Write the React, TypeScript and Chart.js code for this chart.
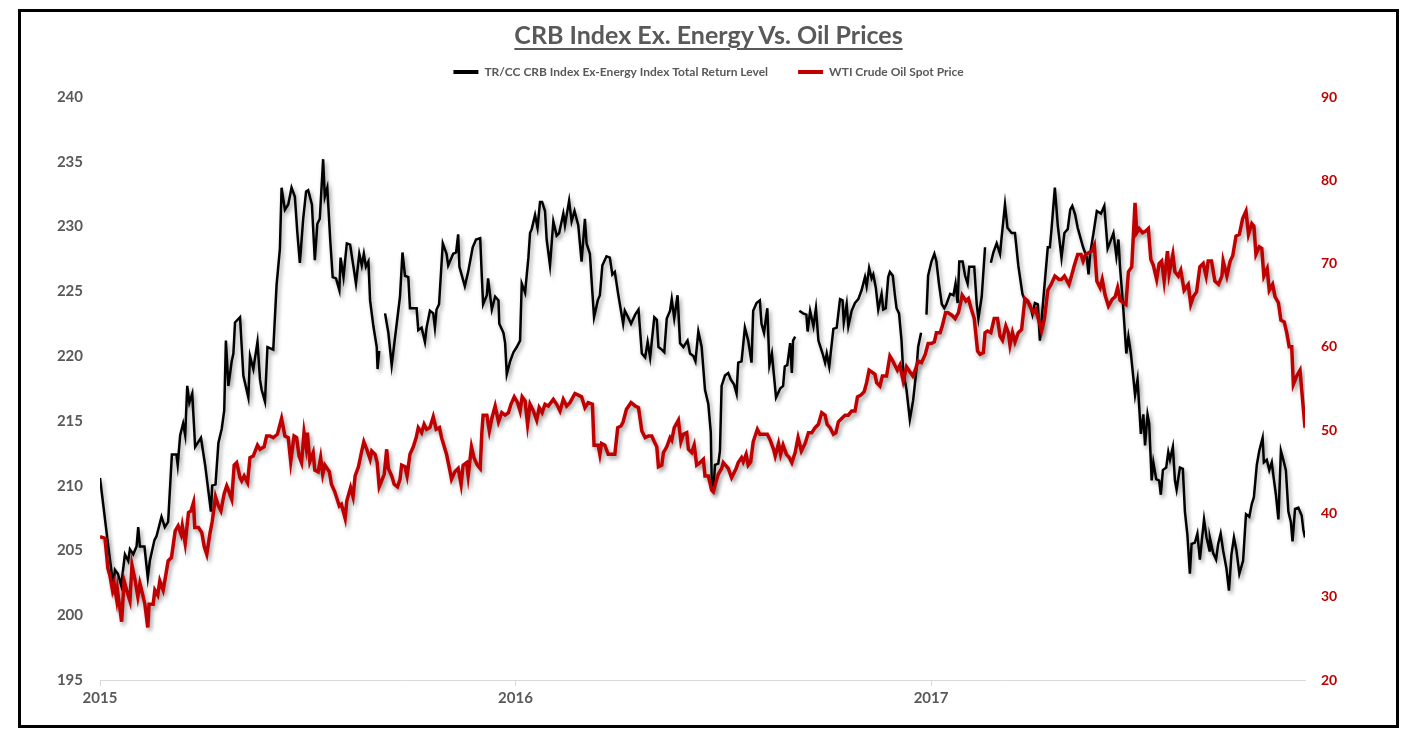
import React, { useEffect, useRef } from 'react';
import { Chart, registerables } from 'chart.js';

Chart.register(...registerables);

// x = years since start of 2015
const yearLabels = ['2015', '2016', '2017'];
const xRange = [0, 2.9];
const leftRange = [195, 240, 5];
const rightRange = [20, 90, 10];

const crbLabel = 'TR/CC CRB Index Ex-Energy Index Total Return Level';
const oilLabel = 'WTI Crude Oil Spot Price';

const crbPoints: [number, number | null][] = [
  [0.000,210.6],[0.020,205.3],[0.032,202.3],[0.036,203.5],[0.043,203.2],[0.051,202.3],[0.060,204.7],[0.068,204.2],[0.072,205.1],[0.080,204.7],
  [0.088,205.3],[0.092,206.8],[0.096,205.3],[0.107,205.3],[0.115,202.9],[0.120,204.2],[0.131,205.8],[0.136,206.1],[0.148,207.6],[0.156,206.8],
  [0.164,207.2],[0.173,212.4],[0.184,212.4],[0.187,211.6],[0.193,213.9],[0.200,214.8],[0.205,213.9],[0.210,217.7],[0.215,216.4],[0.222,217.1],
  [0.229,213.0],[0.243,213.7],[0.253,211.6],[0.267,208.0],[0.270,210.0],[0.278,210.1],[0.285,213.3],[0.293,214.4],[0.299,215.8],[0.303,221.2],
  [0.309,217.7],[0.317,219.6],[0.321,220.2],[0.325,222.6],[0.337,223.0],[0.345,218.5],[0.357,216.8],[0.361,220.0],[0.369,219.0],[0.379,221.1],
  [0.385,218.2],[0.389,217.4],[0.397,216.5],[0.403,220.7],[0.417,220.5],[0.425,225.5],[0.433,228.3],[0.437,233.0],[0.445,231.3],[0.453,231.7],
  [0.461,233.0],[0.469,232.3],[0.475,229.5],[0.481,227.2],[0.489,230.6],[0.496,232.7],[0.501,232.8],[0.510,231.7],[0.517,227.4],[0.523,230.2],
  [0.529,230.6],[0.537,235.2],[0.541,232.3],[0.547,233.0],[0.554,229.0],[0.560,226.1],[0.568,226.0],[0.576,225.1],[0.579,227.6],[0.586,226.1],
  [0.594,228.7],[0.602,228.6],[0.610,226.9],[0.616,225.6],[0.624,227.9],[0.630,227.0],[0.635,227.9],[0.640,226.9],[0.646,227.3],[0.650,224.3],
  [0.658,222.3],[0.666,220.7],[0.668,219.0],[0.672,220.4],[0.679,null],[0.686,223.3],[0.694,221.8],[0.702,219.3],[0.722,224.6],[0.728,228.0],
  [0.734,226.2],[0.742,226.1],[0.746,223.7],[0.762,223.7],[0.766,222.0],[0.774,222.2],[0.782,221.1],[0.786,222.2],[0.794,223.5],[0.802,223.3],
  [0.806,222.2],[0.810,223.6],[0.816,224.0],[0.825,228.7],[0.834,227.9],[0.838,227.0],[0.850,227.9],[0.857,228.0],[0.862,229.4],[0.865,226.9],
  [0.878,225.4],[0.886,226.5],[0.897,228.4],[0.905,229.0],[0.915,229.1],[0.919,226.1],[0.922,224.0],[0.931,224.7],[0.934,226.0],[0.943,223.6],
  [0.951,224.6],[0.959,224.3],[0.961,222.5],[0.971,221.8],[0.975,221.0],[0.979,218.6],[0.987,219.6],[0.995,220.3],[1.003,220.7],[1.011,221.2],
  [1.015,225.6],[1.023,224.9],[1.031,227.6],[1.035,229.5],[1.039,229.8],[1.047,230.9],[1.053,229.9],[1.059,231.9],[1.064,231.9],[1.071,231.2],
  [1.075,229.0],[1.083,227.0],[1.091,230.4],[1.099,229.3],[1.105,229.5],[1.115,231.0],[1.119,230.1],[1.129,232.0],[1.135,230.4],[1.142,231.2],
  [1.151,230.1],[1.159,227.3],[1.167,230.6],[1.171,228.7],[1.179,227.9],[1.185,224.9],[1.189,223.0],[1.198,224.3],[1.203,224.7],[1.209,227.0],
  [1.219,227.7],[1.227,227.6],[1.233,226.3],[1.239,226.5],[1.247,224.8],[1.259,222.5],[1.263,223.5],[1.271,223.0],[1.278,222.5],[1.288,223.2],
  [1.296,223.6],[1.304,220.2],[1.312,219.9],[1.318,221.1],[1.324,219.9],[1.334,223.0],[1.340,222.8],[1.344,220.7],[1.352,220.5],[1.358,220.3],
  [1.364,222.9],[1.372,223.5],[1.376,224.4],[1.382,222.9],[1.390,224.7],[1.396,221.0],[1.404,220.7],[1.414,221.2],[1.420,220.2],[1.428,220.0],
  [1.433,219.6],[1.440,221.9],[1.448,220.7],[1.456,217.4],[1.464,216.3],[1.470,214.1],[1.472,210.7],[1.476,209.5],[1.480,211.6],[1.488,211.7],
  [1.492,212.7],[1.496,217.7],[1.504,218.5],[1.512,218.7],[1.518,218.2],[1.526,217.8],[1.532,217.1],[1.536,219.5],[1.544,219.6],[1.552,222.2],
  [1.560,221.2],[1.568,219.5],[1.572,223.5],[1.580,224.1],[1.588,224.3],[1.592,222.5],[1.598,221.8],[1.606,223.7],[1.611,219.3],[1.617,220.2],
  [1.627,216.8],[1.637,217.5],[1.644,217.7],[1.648,219.2],[1.654,219.3],[1.661,221.0],[1.665,218.7],[1.668,221.2],[1.673,221.5],[1.677,null],
  [1.683,223.5],[1.692,223.3],[1.700,223.2],[1.703,221.9],[1.709,223.5],[1.717,222.3],[1.723,223.7],[1.729,221.2],[1.739,220.2],[1.745,219.5],
  [1.749,220.2],[1.755,219.2],[1.765,222.1],[1.773,222.2],[1.781,224.4],[1.787,224.3],[1.790,222.6],[1.797,224.0],[1.801,222.3],[1.809,223.5],
  [1.817,224.1],[1.825,224.4],[1.833,225.1],[1.841,226.1],[1.845,225.4],[1.851,226.8],[1.857,226.0],[1.861,226.3],[1.867,225.3],[1.873,223.6],
  [1.881,224.8],[1.885,223.6],[1.891,223.7],[1.897,226.1],[1.901,226.5],[1.908,226.2],[1.913,224.7],[1.917,223.7],[1.923,223.3],[1.929,221.2],
  [1.933,218.8],[1.941,217.4],[1.949,215.1],[1.957,216.6],[1.965,219.0],[1.969,220.7],[1.976,221.8],[1.981,null],[1.989,223.2],[1.993,226.2],
  [2.001,227.3],[2.008,227.9],[2.013,227.3],[2.019,225.6],[2.026,224.0],[2.032,223.7],[2.037,224.0],[2.046,224.8],[2.054,224.7],[2.059,225.6],
  [2.064,224.1],[2.068,227.3],[2.076,227.3],[2.082,226.2],[2.088,225.6],[2.092,226.9],[2.104,226.9],[2.110,224.0],[2.114,222.9],[2.122,224.6],
  [2.130,228.4],[2.137,null],[2.144,227.2],[2.150,228.0],[2.158,228.7],[2.166,227.9],[2.170,229.2],[2.178,231.7],[2.184,229.9],[2.194,229.5],
  [2.202,229.5],[2.210,227.0],[2.220,224.8],[2.226,224.3],[2.238,224.0],[2.244,223.2],[2.250,224.1],[2.257,224.0],[2.262,221.2],[2.270,224.3],
  [2.281,228.4],[2.286,228.4],[2.290,229.8],[2.298,233.0],[2.305,230.1],[2.314,227.6],[2.321,229.5],[2.329,229.8],[2.335,231.3],[2.340,231.6],
  [2.347,230.9],[2.353,229.9],[2.359,229.2],[2.366,228.4],[2.375,227.6],[2.379,226.3],[2.383,227.9],[2.391,229.5],[2.399,231.2],[2.409,231.0],
  [2.417,231.6],[2.425,228.3],[2.431,228.8],[2.439,229.5],[2.446,227.7],[2.451,229.0],[2.455,226.8],[2.462,224.0],[2.470,220.2],[2.475,221.5],
  [2.481,220.2],[2.486,218.6],[2.491,217.0],[2.497,218.2],[2.505,214.0],[2.511,215.5],[2.515,213.1],[2.521,215.5],[2.525,214.8],[2.531,210.4],
  [2.535,211.8],[2.542,210.5],[2.549,210.4],[2.553,209.3],[2.558,211.2],[2.566,211.4],[2.571,212.6],[2.575,212.0],[2.582,213.0],[2.587,210.4],
  [2.591,209.7],[2.599,211.4],[2.606,211.3],[2.611,208.0],[2.617,206.2],[2.623,203.2],[2.627,205.5],[2.635,205.6],[2.641,206.3],[2.647,204.3],
  [2.657,207.4],[2.663,206.0],[2.670,205.0],[2.671,206.0],[2.679,204.8],[2.686,204.3],[2.691,205.5],[2.697,206.3],[2.703,205.0],[2.711,203.6],
  [2.717,201.9],[2.723,204.7],[2.729,206.0],[2.735,205.0],[2.742,203.2],[2.751,204.2],[2.758,207.8],[2.766,207.6],[2.772,208.6],[2.777,209.1],
  [2.784,211.6],[2.790,212.7],[2.798,213.7],[2.801,211.8],[2.808,212.0],[2.814,211.2],[2.820,211.8],[2.825,210.5],[2.830,209.3],[2.836,207.4],
  [2.842,212.7],[2.847,212.1],[2.854,211.2],[2.860,208.0],[2.866,207.2],[2.870,205.7],[2.876,208.2],[2.884,208.3],[2.892,207.7],[2.896,206.6],
  [2.900,206.0],
];

const oilPoints: [number, number][] = [
  [0.000,37.2],[0.012,37.0],[0.019,33.4],[0.024,32.5],[0.030,30.8],[0.034,31.6],[0.040,29.7],[0.042,30.8],[0.052,27.0],[0.058,31.9],
  [0.064,30.8],[0.072,29.5],[0.077,33.8],[0.084,32.1],[0.091,30.0],[0.096,31.6],[0.102,30.4],[0.108,29.1],[0.115,26.3],[0.118,29.1],
  [0.128,29.1],[0.132,30.8],[0.139,30.2],[0.144,31.9],[0.152,30.8],[0.158,32.5],[0.164,34.3],[0.172,34.7],[0.181,37.9],[0.188,38.5],
  [0.195,37.5],[0.198,38.5],[0.205,36.4],[0.213,40.1],[0.219,40.3],[0.225,41.3],[0.228,38.3],[0.237,38.3],[0.245,37.7],[0.251,36.0],
  [0.257,35.1],[0.265,37.7],[0.270,39.0],[0.278,42.0],[0.285,40.9],[0.291,40.3],[0.299,42.4],[0.305,43.3],[0.309,42.8],[0.317,41.7],
  [0.323,45.8],[0.329,46.1],[0.337,44.3],[0.341,43.9],[0.347,44.5],[0.355,43.7],[0.361,46.7],[0.369,46.9],[0.379,48.2],[0.385,47.7],
  [0.395,48.0],[0.401,49.3],[0.409,49.3],[0.417,49.1],[0.427,49.5],[0.437,51.4],[0.445,49.3],[0.453,49.1],[0.459,46.2],[0.467,49.3],
  [0.473,49.1],[0.479,46.9],[0.485,46.1],[0.491,49.7],[0.496,48.0],[0.499,49.7],[0.505,46.2],[0.513,47.3],[0.517,45.2],[0.525,45.0],
  [0.531,46.7],[0.536,44.7],[0.541,45.8],[0.552,45.0],[0.557,43.5],[0.565,42.6],[0.576,40.9],[0.581,41.1],[0.590,39.4],[0.594,41.5],
  [0.603,43.1],[0.609,42.0],[0.614,44.5],[0.622,45.6],[0.630,47.5],[0.635,48.6],[0.642,47.7],[0.650,46.5],[0.654,47.5],[0.662,47.1],
  [0.667,46.1],[0.672,43.2],[0.684,44.7],[0.690,47.7],[0.694,45.4],[0.702,44.5],[0.708,43.5],[0.716,43.2],[0.722,44.1],[0.726,45.8],
  [0.734,45.6],[0.739,44.5],[0.746,47.1],[0.754,48.0],[0.761,49.1],[0.766,50.3],[0.774,49.7],[0.780,50.7],[0.786,50.1],[0.794,50.3],
  [0.802,51.6],[0.809,50.1],[0.817,50.3],[0.822,49.1],[0.834,47.1],[0.841,45.4],[0.846,44.1],[0.854,45.0],[0.862,45.4],[0.869,43.5],
  [0.874,45.8],[0.882,46.1],[0.886,44.5],[0.894,48.0],[0.900,46.7],[0.908,45.8],[0.915,45.4],[0.919,49.7],[0.922,51.8],[0.931,51.8],
  [0.937,49.9],[0.943,51.4],[0.951,52.9],[0.959,51.0],[0.967,52.1],[0.975,51.8],[0.983,52.1],[0.989,53.1],[0.997,54.0],[1.005,53.3],
  [1.011,52.3],[1.016,54.0],[1.023,53.5],[1.029,50.7],[1.035,53.1],[1.043,52.3],[1.051,51.2],[1.057,52.7],[1.064,52.1],[1.071,53.1],
  [1.079,52.9],[1.091,53.7],[1.099,53.1],[1.107,52.3],[1.115,53.7],[1.123,52.9],[1.131,53.3],[1.143,54.4],[1.151,54.2],[1.159,54.0],
  [1.167,52.7],[1.175,53.3],[1.185,53.1],[1.189,48.2],[1.199,48.2],[1.203,47.1],[1.207,48.4],[1.215,48.2],[1.223,47.1],[1.233,47.1],
  [1.239,47.1],[1.246,50.3],[1.254,50.5],[1.259,51.0],[1.267,52.5],[1.278,53.3],[1.288,52.9],[1.296,52.7],[1.304,49.9],[1.312,49.1],
  [1.320,49.3],[1.328,49.3],[1.334,48.6],[1.340,48.0],[1.344,45.6],[1.352,45.8],[1.356,47.3],[1.364,48.0],[1.372,49.1],[1.376,48.8],
  [1.382,50.3],[1.392,51.2],[1.398,48.6],[1.404,49.5],[1.412,49.7],[1.416,47.7],[1.424,47.3],[1.430,48.2],[1.436,45.8],[1.444,46.1],
  [1.452,46.5],[1.456,44.5],[1.464,44.5],[1.472,42.8],[1.476,42.6],[1.482,43.7],[1.488,44.7],[1.496,45.4],[1.500,46.1],[1.512,45.4],
  [1.520,44.3],[1.531,45.4],[1.536,46.1],[1.544,46.7],[1.548,46.2],[1.555,47.1],[1.560,45.8],[1.566,46.2],[1.572,48.6],[1.582,50.1],
  [1.588,49.5],[1.598,49.5],[1.606,49.5],[1.613,48.8],[1.621,47.7],[1.625,46.9],[1.633,48.4],[1.638,47.1],[1.644,48.2],[1.652,47.1],
  [1.659,46.7],[1.665,46.1],[1.673,47.3],[1.680,49.1],[1.688,47.5],[1.697,48.4],[1.705,49.7],[1.713,49.7],[1.721,50.3],[1.729,50.7],
  [1.737,52.1],[1.745,51.8],[1.750,50.7],[1.757,50.3],[1.765,49.5],[1.771,49.7],[1.777,51.0],[1.785,51.4],[1.793,51.8],[1.801,51.8],
  [1.809,52.3],[1.817,52.3],[1.823,54.0],[1.831,54.2],[1.839,54.6],[1.845,55.7],[1.851,57.2],[1.857,57.0],[1.865,56.7],[1.869,55.7],
  [1.877,55.3],[1.883,56.5],[1.893,56.5],[1.901,58.9],[1.908,58.3],[1.913,57.8],[1.919,57.2],[1.925,57.8],[1.933,55.9],[1.941,57.6],
  [1.949,57.0],[1.956,56.5],[1.962,57.2],[1.969,58.3],[1.977,58.1],[1.986,59.1],[1.993,60.4],[2.001,60.4],[2.008,60.6],[2.013,61.7],
  [2.022,61.7],[2.027,62.5],[2.035,64.1],[2.041,64.1],[2.050,63.8],[2.058,63.4],[2.066,64.1],[2.075,66.2],[2.084,65.5],[2.090,65.8],
  [2.096,64.7],[2.104,63.4],[2.112,59.5],[2.118,59.1],[2.126,59.3],[2.130,61.7],[2.136,61.9],[2.144,61.7],[2.152,63.4],[2.160,63.4],
  [2.166,61.3],[2.172,60.8],[2.180,62.5],[2.186,61.7],[2.190,60.2],[2.196,61.7],[2.202,60.6],[2.210,61.7],[2.218,62.1],[2.226,65.8],
  [2.233,65.5],[2.238,64.9],[2.246,64.1],[2.252,64.5],[2.258,63.4],[2.266,61.9],[2.273,63.4],[2.281,66.8],[2.289,67.5],[2.298,68.5],
  [2.308,68.1],[2.314,68.1],[2.321,68.5],[2.332,67.5],[2.338,68.5],[2.345,69.8],[2.353,71.1],[2.361,71.1],[2.366,70.3],[2.372,71.1],
  [2.379,71.3],[2.387,71.5],[2.393,72.2],[2.399,67.9],[2.407,67.1],[2.412,68.1],[2.419,66.2],[2.427,64.9],[2.436,65.7],[2.443,66.0],
  [2.449,67.1],[2.455,65.6],[2.463,65.3],[2.469,65.1],[2.475,69.0],[2.483,69.6],[2.491,77.3],[2.495,73.7],[2.501,74.2],[2.509,73.7],
  [2.517,73.9],[2.523,74.2],[2.529,70.5],[2.535,69.8],[2.543,68.1],[2.549,70.0],[2.555,70.3],[2.561,67.9],[2.569,71.5],[2.573,68.8],
  [2.582,71.1],[2.587,69.0],[2.595,68.5],[2.601,69.2],[2.609,66.8],[2.619,67.5],[2.625,65.1],[2.631,66.0],[2.639,66.6],[2.647,69.6],
  [2.655,70.0],[2.662,68.5],[2.667,70.3],[2.675,70.3],[2.683,67.9],[2.692,67.5],[2.700,68.5],[2.703,70.3],[2.712,68.5],[2.720,70.3],
  [2.726,70.9],[2.734,73.3],[2.742,73.5],[2.750,75.4],[2.758,76.3],[2.764,73.5],[2.772,74.8],[2.777,74.5],[2.782,71.1],[2.790,72.0],
  [2.796,71.8],[2.801,68.5],[2.809,69.4],[2.814,66.8],[2.822,67.5],[2.828,66.0],[2.836,65.3],[2.842,63.2],[2.850,63.0],[2.856,61.7],
  [2.862,60.0],[2.868,60.0],[2.872,55.5],[2.880,56.5],[2.888,57.2],[2.900,50.3],
];

const GRAY = '#595959';
const RED = '#c00000';
const FONT = 'Lato, "DejaVu Sans", sans-serif';

export default function App() {
  const canvasRef = useRef<HTMLCanvasElement>(null);

  useEffect(() => {
    if (!canvasRef.current) return;

    const lineShadow = {
      id: 'lineShadow',
      beforeDatasetDraw(chart: any) {
        const c = chart.ctx;
        c.save();
        c.shadowColor = 'rgba(0,0,0,0.38)';
        c.shadowBlur = 4;
        c.shadowOffsetX = 2;
        c.shadowOffsetY = 3;
      },
      afterDatasetDraw(chart: any) {
        chart.ctx.restore();
      },
    };

    const legendSpace = {
      id: 'legendSpace',
      beforeInit(chart: any) {
        const lg = chart.legend;
        if (!lg) return;
        const orig = lg.fit;
        lg.fit = function () {
          orig.call(this);
          this.height += 9;
        };
      },
    };

    const chart = new Chart(canvasRef.current, {
      type: 'line',
      data: {
        datasets: [
          {
            label: crbLabel,
            data: crbPoints.map(([x, y]) => ({ x, y })),
            borderColor: '#000000',
            backgroundColor: '#000000',
            borderWidth: 2.5,
            pointRadius: 0,
            tension: 0,
            spanGaps: false,
            yAxisID: 'y',
            order: 1,
          },
          {
            label: oilLabel,
            data: oilPoints.map(([x, y]) => ({ x, y })),
            borderColor: RED,
            backgroundColor: RED,
            borderWidth: 3.5,
            pointRadius: 0,
            tension: 0,
            yAxisID: 'y1',
            order: 0,
          },
        ],
      },
      options: {
        animation: false,
        responsive: true,
        maintainAspectRatio: false,
        layout: { padding: { top: 24, left: 0, right: 0, bottom: 0 } },
        plugins: {
          tooltip: { enabled: false },
          legend: {
            display: true,
            position: 'top',
            labels: {
              boxWidth: 25,
              boxHeight: 4,
              padding: 30,
              color: GRAY,
              font: { family: FONT, size: 12, weight: 'bold' },
              sort: (a: any, b: any) => a.datasetIndex - b.datasetIndex,
              generateLabels: (ch: any) =>
                (Chart.defaults.plugins.legend.labels as any)
                  .generateLabels(ch)
                  .map((l: any) => ({ ...l, lineWidth: 0 })),
            },
          },
        },
        scales: {
          x: {
            type: 'linear',
            min: xRange[0],
            max: xRange[1],
            afterFit: (s: any) => { s.height = 45; },
            afterBuildTicks: (s: any) => {
              s.ticks = yearLabels.map((_, i) => ({ value: i }));
            },
            ticks: {
              autoSkip: false,
              maxRotation: 0,
              padding: 3,
              color: GRAY,
              font: { family: FONT, size: 15, weight: 'bold' },
              callback: (v: any) => yearLabels[Math.round(Number(v))] ?? '',
            },
            grid: {
              drawOnChartArea: false,
              drawTicks: true,
              tickLength: 6,
              color: '#d9d9d9',
            },
            border: { display: true, color: '#d9d9d9', width: 1 },
          },
          y: {
            type: 'linear',
            position: 'left',
            min: leftRange[0],
            max: leftRange[1],
            afterFit: (s: any) => { s.width = 79; },
            ticks: {
              stepSize: leftRange[2],
              padding: 17,
              color: GRAY,
              font: { family: FONT, size: 15, weight: 'bold' },
            },
            grid: { display: false, drawTicks: false },
            border: { display: false },
          },
          y1: {
            type: 'linear',
            position: 'right',
            min: rightRange[0],
            max: rightRange[1],
            afterFit: (s: any) => { s.width = 91; },
            ticks: {
              stepSize: rightRange[2],
              padding: 16,
              color: RED,
              font: { family: FONT, size: 14, weight: 'bold' },
            },
            grid: { display: false, drawTicks: false },
            border: { display: false },
          },
        },
      },
      plugins: [lineShadow, legendSpace],
    } as any);

    return () => chart.destroy();
  }, []);

  return (
    <div
      style={{
        position: 'absolute',
        left: 18,
        top: 9,
        width: 1381,
        height: 719,
        border: '3px solid #000',
        boxSizing: 'border-box',
        background: '#fff',
      }}
    >
      <div style={{ position: 'absolute', left: 0, top: 0, width: 1375, height: 713 }}>
        <canvas ref={canvasRef} />
      </div>
      <div
        style={{
          position: 'absolute',
          left: 0,
          top: 7,
          width: 1375,
          textAlign: 'center',
          fontFamily: FONT,
          fontWeight: 700,
          fontSize: 25,
          lineHeight: '30px',
          color: GRAY,
          pointerEvents: 'none',
        }}
      >
        <span
          style={{
            textDecoration: 'underline',
            textUnderlineOffset: '4px',
            textDecorationThickness: '2px',
          }}
        >
          CRB Index Ex. Energy Vs. Oil Prices
        </span>
      </div>
    </div>
  );
}
